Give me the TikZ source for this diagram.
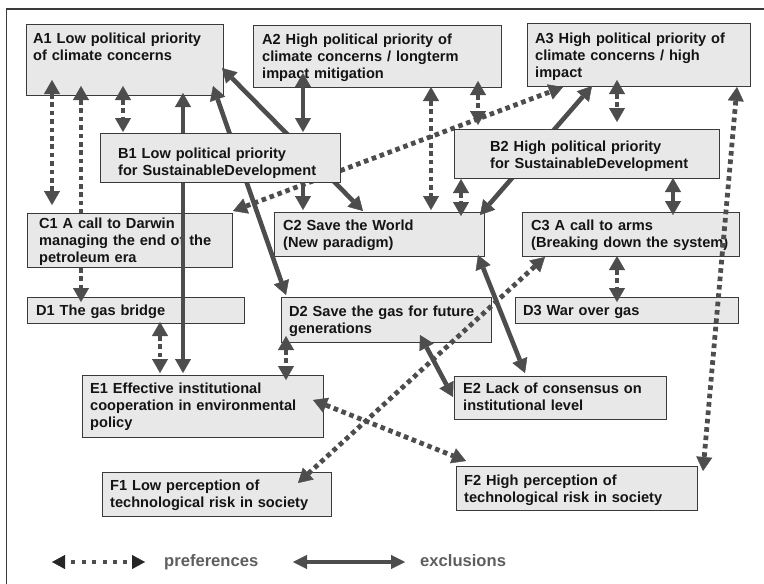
\documentclass[tikz,border=0pt]{standalone}
\usepackage{fontspec}
\setmainfont{Liberation Sans}
\usetikzlibrary{arrows.meta,calc}
\definecolor{boxfill}{HTML}{E8E8E8}
\definecolor{boxline}{HTML}{3A3A3A}
\definecolor{arrcol}{HTML}{4D4D4D}
\definecolor{txtcol}{HTML}{141414}
\definecolor{legcol}{HTML}{5E5E5E}
\begin{document}
\begin{tikzpicture}[x=1pt,y=-1pt,
  >={Triangle[length=14pt,width=16pt,line width=0.4pt]},
  mybox/.style={draw=boxline, fill=boxfill, line width=1.3pt, rectangle, inner sep=0pt, anchor=north west},
  mytxt/.style={font=\fontsize{14.6}{17}\selectfont\bfseries, text=txtcol, text width=320pt, align=left, inner sep=0pt, anchor=base west},
  prefarrow/.style={draw=arrcol, line width=4.8pt, dash pattern=on 4.6pt off 3.8pt},
  exclarrow/.style={draw=arrcol, line width=4.6pt},
  legtxt/.style={font=\fontsize{16.6}{19}\selectfont\bfseries, text=legcol, inner sep=0pt, anchor=base west}]
\useasboundingbox (0,0) rectangle (764,584);
% frame (only top and left visible)
\coordinate (frTR) at (764,9);
\coordinate (frTL) at (6.5,9);
\coordinate (frBL) at (6.5,584);
\draw[boxline, line width=1.8pt] (frTR) -- (frTL) -- (frBL);

% boxes (first group)
\node[mybox, minimum width=197pt, minimum height=71pt] (A1) at (26,24) {};
\node[mytxt] (A1t) at (33,43.3) {A1 Low political priority\\of climate concerns};
\node[mybox, minimum width=248pt, minimum height=62pt] (A2) at (253,25) {};
\node[mytxt] (A2t) at (262,44.3) {A2 High political priority of\\climate concerns / longterm\\impact mitigation};
\node[mybox, minimum width=223pt, minimum height=63pt] (A3) at (527,23) {};
\node[mytxt] (A3t) at (535,43.3) {A3 High political priority of\\climate concerns / high\\impact};
\node[mybox, minimum width=210pt, minimum height=44pt] (C2) at (274,212) {};
\node[mytxt] (C2t) at (283,230) {C2 Save the World\\(New paradigm)};
\node[mybox, minimum width=217pt, minimum height=44pt] (C3) at (522,212) {};
\node[mytxt] (C3t) at (531,230) {C3 A call to arms\\(Breaking down the system)};
\node[mybox, minimum width=217pt, minimum height=26pt] (D1) at (27,297) {};
\node[mytxt] (D1t) at (36,315) {D1 The gas bridge};
\node[mybox, minimum width=210pt, minimum height=45pt] (D2) at (281,297) {};
\node[mytxt] (D2t) at (289,316) {D2 Save the gas for future\\generations};
\node[mybox, minimum width=223pt, minimum height=26pt] (D3) at (515,297) {};
\node[mytxt] (D3t) at (523,315) {D3 War over gas};
\node[mybox, minimum width=241pt, minimum height=62pt] (E1) at (82,375) {};
\node[mytxt] (E1t) at (90,393.3) {E1 Effective institutional\\cooperation in environmental\\policy};
\node[mybox, minimum width=212pt, minimum height=43pt] (E2) at (454,376) {};
\node[mytxt] (E2t) at (463,393.3) {E2 Lack of consensus on\\institutional level};
\node[mybox, minimum width=229pt, minimum height=44pt] (F1) at (102,472) {};
\node[mytxt] (F1t) at (110,490) {F1 Low perception of\\technological risk in society};
\node[mybox, minimum width=241pt, minimum height=44pt] (F2) at (456,466) {};
\node[mytxt] (F2t) at (464,485) {F2 High perception of\\technological risk in society};

% connector hidden behind C1
\draw[prefarrow, <->] ($(A1.north west)+(55,62)$) -- ($(D1.north west)+(54,5)$);

% C1 box
\node[mybox, minimum width=205pt, minimum height=54pt] (C1) at (27,213) {};
\node[mytxt] (C1t) at (39,228.3) {C1 A call to Darwin\\managing the end of the\\petroleum era};

% connectors hidden behind B1 / B2
\draw[exclarrow, <->] ($(A1.north west)+(157,69)$) -- ($(E1.north west)+(101,-2)$);
\draw[exclarrow, <->] ($(A1.north west)+(187,62)$) -- ($(D2.north west)+(5,-2)$);
\draw[exclarrow, <->] ($(A1.north west)+(196,44)$) -- ($(C2.north west)+(89,-1)$);
\draw[prefarrow, <->] ($(C1.north west)+(206,-2)$) -- ($(A3.north west)+(36,64)$);
\draw[exclarrow, <->] ($(A3.north west)+(65,63)$) -- ($(C2.north west)+(206,3)$);

% B1 and B2 boxes
\node[mybox, minimum width=240pt, minimum height=49pt] (B1) at (100,133) {};
\node[mytxt] (B1t) at (118,158.3) {B1 Low political priority\\for SustainableDevelopment};
\node[mybox, minimum width=265pt, minimum height=49pt] (B2) at (454,129) {};
\node[mytxt] (B2t) at (490,151.7) {B2 High political priority\\for SustainableDevelopment};

% remaining connectors
\draw[prefarrow, <->] ($(A1.north west)+(26,56)$) -- ($(C1.north west)+(25,-8)$);
\draw[prefarrow, <->] ($(A1.north west)+(97,62)$) -- ($(B1.north west)+(23,-1)$);
\draw[exclarrow, <->] ($(A2.north west)+(50,48)$) -- ($(B1.north west)+(203,-1)$);
\draw[exclarrow, ->] ($(B1.north west)+(203,49)$) -- ($(C2.north west)+(29,-2)$);
\draw[prefarrow, <->] ($(A2.north west)+(178,62)$) -- ($(C2.north west)+(157,-2)$);
\draw[prefarrow, <->] ($(A2.north west)+(225,56)$) -- ($(B2.north west)+(24,-4)$);
\draw[prefarrow, <->] ($(A3.north west)+(90,57)$) -- ($(B2.north west)+(163,-7)$);
\draw[prefarrow, <->] ($(A3.north west)+(210,64)$) -- ($(F2.north west)+(247,5)$);
\draw[prefarrow, <->] ($(B2.north west)+(7,50)$) -- ($(C2.north west)+(187,4)$);
\draw[exclarrow, <->] ($(B2.north west)+(219,49)$) -- ($(C3.north west)+(151,3)$);
\draw[prefarrow, <->] ($(C3.north west)+(95,44)$) -- ($(D3.north west)+(102,5)$);
\draw[prefarrow, <->] ($(C3.north west)+(23,45)$) -- ($(F1.north west)+(196,11)$);
\draw[prefarrow, <->] ($(D1.north west)+(133,25)$) -- ($(E1.north west)+(78,-2)$);
\draw[prefarrow, <->] ($(D2.north west)+(5,39)$) -- ($(E1.north west)+(204,5)$);
\draw[exclarrow, <->] ($(D2.north west)+(139,38)$) -- ($(E2.north west)+(-1,21)$);
\draw[exclarrow, <->] ($(C2.north west)+(204,43)$) -- ($(E2.north west)+(71,-3)$);
\draw[prefarrow, <->] ($(E1.north west)+(231,25)$) -- ($(F2.north west)+(10,-5)$);

% legend
\coordinate (legP1) at (52,562);
\coordinate (legP2) at (145,562);
\coordinate (legE1) at (293,562);
\coordinate (legE2) at (405,562);
\draw[draw=arrcol, line width=4pt, dash pattern=on 4pt off 6.4pt, dash phase=4pt,
  {Triangle[length=13pt,width=14pt,line width=0.4pt,color=black!85]}-{Triangle[length=13pt,width=14pt,line width=0.4pt,color=black!85]}]
  (legP1) -- (legP2);
\node[legtxt] (legPt) at (164,566.5) {preferences};
\draw[draw=arrcol, line width=4pt, {Triangle[length=14pt,width=14pt,line width=0.4pt]}-{Triangle[length=14pt,width=14pt,line width=0.4pt]}]
  (legE1) -- (legE2);
\node[legtxt] (legEt) at (420,566.5) {exclusions};
\end{tikzpicture}
\end{document}
